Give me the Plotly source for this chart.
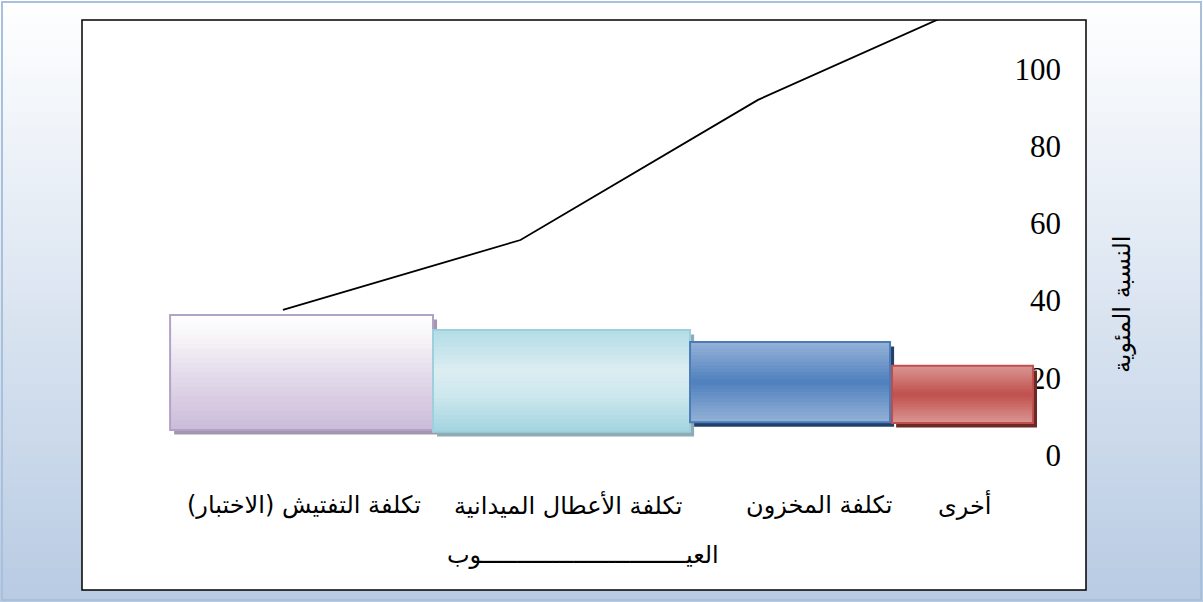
import base64
import plotly.graph_objects as go

# ---------------- data ----------------
categories = ["تكلفة التفتيش (الاختبار)", "تكلفة الأعطال الميدانية", "تكلفة المخزون", "أخرى"]
bar_heights = [29.8, 26.4, 20.8, 14.8]
cumulative_pct = [37.6, 55.7, 92.0, 119.5]
y_tick_values = [0, 20, 40, 60, 80, 100]
x_title = "العيـــــــــــــــــــــــــــــوب"
y_title = "النسبة المئوية"

# ---------------- style (3-D look of the original) ----------------
W, H = 1203, 602
ML, MR, MT, MB = 82, 117, 20, 117
PW, PH = W - ML - MR, H - MT - MB

bar_floor = [6.5, 6.0, 8.5, 8.3]
bar_offset = [-0.694, -0.524, -0.380, -0.481]
bar_width = [1.170, 1.144, 0.890, 0.627]
label_shift = [-22, 17, 44, -35]
bar_gradients = [
    [(0, "#cbbcd9"), (0.45, "#e2d9e9"), (0.8, "#f6f4f8"), (1, "#ffffff")],
    [(0, "#a3d4e0"), (0.35, "#cce7ee"), (0.6, "#dcedf2"), (1, "#b3dce6")],
    [(0, "#93b1d6"), (0.2, "#7a9ecd"), (0.5, "#4f80bd"), (0.8, "#7a9ecd"), (1, "#95b3d7")],
    [(0, "#d99694"), (0.2, "#cf7a77"), (0.5, "#c0504d"), (0.8, "#cf7a77"), (1, "#d99694")],
]
bar_border = ["#b3a2c7", "#9dd0dc", "#4a7bb8", "#c0504d"]
bar_shadow = ["#a497ad", "#8eacb3", "#22406a", "#6b2a28"]
N_BANDS = 24


def hex2rgb(h):
    h = h.lstrip("#")
    return tuple(int(h[i:i + 2], 16) for i in (0, 2, 4))


def grad_color(stops, t):
    for (p0, c0), (p1, c1) in zip(stops[:-1], stops[1:]):
        if p0 <= t <= p1:
            f = 0 if p1 == p0 else (t - p0) / (p1 - p0)
            a, b = hex2rgb(c0), hex2rgb(c1)
            return "rgb(%d,%d,%d)" % tuple(round(a[i] + (b[i] - a[i]) * f) for i in range(3))
    return stops[-1][1]


fig = go.Figure()

# shadows
for i, cat in enumerate(categories):
    fig.add_trace(go.Bar(
        x=[cat], y=[bar_heights[i]], base=[bar_floor[i] - 1.2],
        offset=bar_offset[i] + 0.018, width=bar_width[i],
        marker=dict(color=bar_shadow[i], line=dict(width=0)),
        hoverinfo="skip", showlegend=False,
    ))

# gradient bodies: each band runs from its own start up to the bar top,
# later bands cover earlier ones (no seams)
for i, cat in enumerate(categories):
    h = bar_heights[i]
    for k in range(N_BANDS):
        t = (k + 0.5) / N_BANDS
        start = h * k / N_BANDS
        fig.add_trace(go.Bar(
            x=[cat], y=[h - start], base=[bar_floor[i] + start],
            offset=bar_offset[i], width=bar_width[i],
            marker=dict(color=grad_color(bar_gradients[i], t), line=dict(width=0)),
            hoverinfo="skip", showlegend=False,
        ))

# outlines
for i, cat in enumerate(categories):
    fig.add_trace(go.Bar(
        x=[cat], y=[bar_heights[i]], base=[bar_floor[i]],
        offset=bar_offset[i], width=bar_width[i],
        marker=dict(color="rgba(0,0,0,0)", line=dict(width=2, color=bar_border[i])),
        name=categories[i], showlegend=False,
    ))

# cumulative line
fig.add_trace(go.Scatter(
    x=categories, y=cumulative_pct, xaxis="x2", yaxis="y",
    mode="lines", line=dict(color="black", width=1.8), showlegend=False,
))

# background gradient image
svg = ('<svg xmlns="http://www.w3.org/2000/svg" width="%d" height="%d" preserveAspectRatio="none">'
       '<defs><linearGradient id="g" x1="0" y1="0" x2="0" y2="1">'
       '<stop offset="0" stop-color="#ffffff"/><stop offset="1" stop-color="#b8cbe3"/>'
       '</linearGradient></defs><rect width="%d" height="%d" fill="url(#g)"/></svg>') % (W, H, W, H)
src = "data:image/svg+xml;base64," + base64.b64encode(svg.encode()).decode()


def px_x(px):
    return (px - ML) / PW


def px_y(py):
    return (H - MB - py) / PH


annotations = [
    dict(text=y_title, xref="paper", yref="paper", x=px_x(1122), y=px_y(305),
         textangle=-90, showarrow=False, xanchor="center", yanchor="middle",
         font=dict(family="DejaVu Sans", size=24, color="black")),
    dict(text=x_title, xref="paper", yref="paper", x=px_x(583), y=px_y(555),
         showarrow=False, xanchor="center", yanchor="middle",
         font=dict(family="DejaVu Sans", size=24, color="black")),
]
for i, cat in enumerate(categories):
    annotations.append(dict(
        text=cat, xref="x", yref="paper", x=cat, y=px_y(505), xshift=label_shift[i],
        showarrow=False, xanchor="center", yanchor="middle",
        font=dict(family="DejaVu Sans", size=24, color="black")))

fig.update_layout(
    width=W, height=H,
    margin=dict(l=ML, r=MR, t=MT, b=MB, pad=0),
    paper_bgcolor="white", plot_bgcolor="rgba(0,0,0,0)",
    barmode="overlay",
    showlegend=False,
    images=[dict(source=src, xref="paper", yref="paper",
                 x=px_x(0), y=px_y(0), sizex=W / PW, sizey=H / PH,
                 xanchor="left", yanchor="top", sizing="stretch", layer="below")],
    shapes=[
        dict(type="rect", xref="paper", yref="paper",
             x0=px_x(2), x1=px_x(1201), y0=px_y(600), y1=px_y(2),
             line=dict(color="#a9c0dd", width=2), fillcolor="rgba(0,0,0,0)", layer="below"),
        dict(type="rect", xref="paper", yref="paper",
             x0=0, x1=1, y0=px_y(590), y1=1,
             line=dict(color="black", width=1.5), fillcolor="white", layer="below"),
    ],
    xaxis=dict(type="category", categoryorder="array", categoryarray=categories,
               range=[-1.086, 3.382], showgrid=False, zeroline=False, showline=False,
               ticks="", showticklabels=False),
    xaxis2=dict(type="category", categoryorder="array", categoryarray=categories,
                range=[-0.846, 3.381], overlaying="x", visible=False),
    yaxis=dict(side="right", range=[-7.77, 112.7], tickvals=y_tick_values,
               showgrid=False, zeroline=False, showline=False, ticks="",
               ticklabelposition="inside", ticklabelstandoff=22, layer="below traces",
               tickfont=dict(family="Liberation Serif", size=31, color="black")),
    annotations=annotations,
)

fig.write_html("out.html", config={"displayModeBar": False},
               post_script="document.body.style.margin='0';document.body.style.overflow='hidden';")
